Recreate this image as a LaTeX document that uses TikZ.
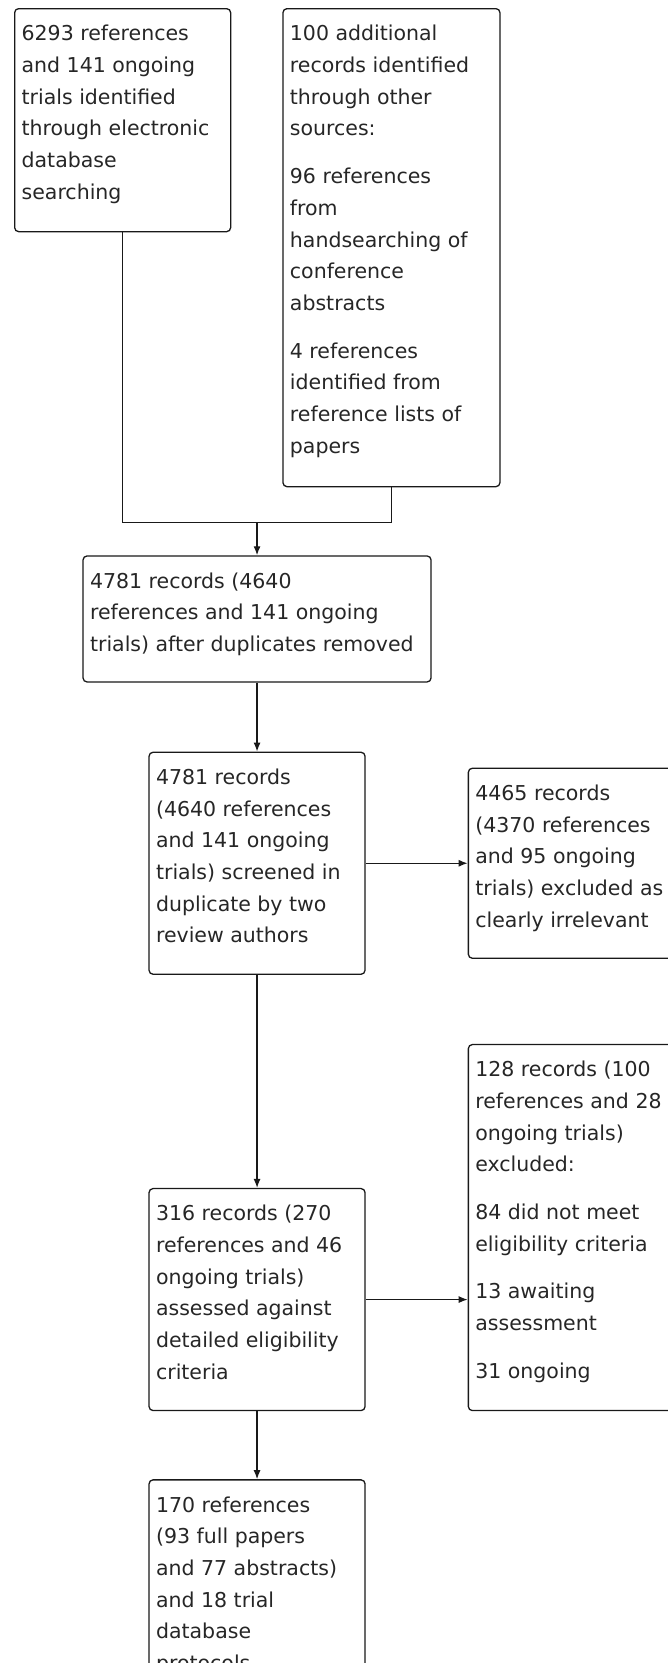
\documentclass[tikz,border=0pt]{standalone}
\usepackage{fontspec}
\setmainfont{DejaVu Sans}
\usetikzlibrary{positioning, calc, arrows.meta}
\newcommand{\boxtext}[3]{\parbox[c][#2][t]{#1}{\raggedright\vspace*{10pt}\strut#3}}

\begin{document}
\begin{tikzpicture}[
      x=1pt, y=1pt,
      record/.style={draw=black!90, line width=1.3pt, rounded corners=4pt,
        inner xsep=7pt, inner ysep=0pt, text=black!85,
        font=\fontsize{20.5pt}{31.7pt}\selectfont},
      merge/.style={line width=1.3pt, draw=black!90},
      flow/.style={merge, -{Latex[length=9pt,width=7pt]}}
    ]
    \useasboundingbox (0,0) rectangle (668,-1663);
    \clip (0,0) rectangle (668,-1663);

    \node(a)[record, anchor=north west] at (14,-8) {\boxtext{202pt}{223pt}{6293 references\\
      and 141 ongoing\\ trials identified\\ through electronic\\ database\\ searching}};
    \node(b)[record, right=51pt of a.north east, anchor=north west] {\boxtext{203pt}{478pt}{100 additional\\
      records identified\\ through other\\ sources:\\[16pt]
      96 references\\ from\\ handsearching of\\ conference\\ abstracts\\[16pt]
      4 references\\ identified from\\ reference lists of\\ papers}};
    \coordinate[below=35pt of b.south] (mb);
    \coordinate (m) at ($(a.south |- mb)!0.5!(mb)$);
    \node(c)[record, below=33pt of m] {\boxtext{334pt}{126pt}{4781 records (4640\\
      references and 141 ongoing\\ trials) after duplicates removed}};
    \node(d)[record, below=69pt of c] {\boxtext{202pt}{222pt}{4781 records\\
      (4640 references\\ and 141 ongoing\\ trials) screened in\\ duplicate by two\\ review authors}};
    \node(e)[record, right=102pt of d] {\boxtext{202pt}{190pt}{4465 records\\
      (4370 references\\ and 95 ongoing\\ trials) excluded as\\ clearly irrelevant}};
    \node(f)[record, below=213pt of d] {\boxtext{202pt}{222pt}{316 records (270\\
      references and 46\\ ongoing trials)\\ assessed against\\ detailed eligibility\\ criteria}};
    \node(g)[record, right=102pt of f.south east, anchor=south west] {\boxtext{202pt}{366pt}{128 records (100\\
      references and 28\\ ongoing trials)\\ excluded:\\[16pt]
      84 did not meet\\ eligibility criteria\\[16pt]
      13 awaiting\\ assessment\\[16pt]
      31 ongoing}};
    \node(h)[record, below=68pt of f] {\boxtext{202pt}{222pt}{170 references\\
      (93 full papers\\ and 77 abstracts)\\ and 18 trial\\ database\\ protocols}};

    \draw [merge] (a.south) |- (m) -| (b.south);
    \draw [flow] (m) -- (c.north);
    \draw [flow] (c) -- (d);
    \draw [flow] (d) -- (e);
    \draw [flow] (d) -- (f);
    \draw [flow] (f.east) -- (f.east -| g.west);
    \draw [flow] (f) -- (h);
    \end{tikzpicture}
\end{document}
